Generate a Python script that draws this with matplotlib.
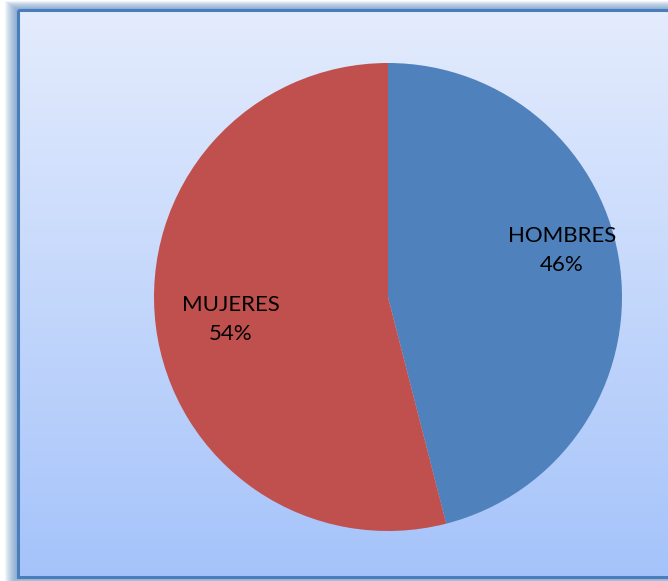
import numpy as np
import matplotlib.pyplot as plt
from matplotlib.patches import Rectangle
from matplotlib.colors import LinearSegmentedColormap

# data
labels = ["HOMBRES", "MUJERES"]
values = [46, 54]
colors = ["#4f81bd", "#c0504d"]
# label placement (angle in degrees, radius fraction) as Excel put them
label_pos = [(15, 0.77), (188, 0.68)]

W, H = 668, 581
fig = plt.figure(figsize=(W / 100, H / 100), dpi=100)
fig.patch.set_facecolor("white")

# background panel with glow + gradient
bg = fig.add_axes([0, 0, 1, 1])
x0, y0, x1, y1 = 18, 10, 680, 577
for i in range(13, 0, -1):
    bg.add_patch(Rectangle((x0 - i, y0 - i * 0.7), (x1 - x0) + 2 * i, (y1 - y0) + i * 1.4,
                           facecolor="#4a7ebb", edgecolor="none", alpha=0.07))
cmap = LinearSegmentedColormap.from_list("bgc", ["#e4ecfd", "#a5c3fa"])
grad = np.linspace(0, 1, 256).reshape(-1, 1)
bg.imshow(grad, cmap=cmap, extent=[x0, x1, y1, y0], aspect="auto", zorder=2)
bg.add_patch(Rectangle((x0, y0), x1 - x0, y1 - y0, facecolor="none",
                       edgecolor="#4a7ebb", linewidth=2.2, zorder=3))
bg.set_xlim(0, W)
bg.set_ylim(H, 0)
bg.axis("off")

# pie
cx, cy, r = 388, 297, 234
ax = fig.add_axes([(cx - r) / W, 1 - (cy + r) / H, 2 * r / W, 2 * r / H])
ax.pie(values, colors=colors, startangle=90, counterclock=False, radius=1,
       wedgeprops=dict(linewidth=0))
ax.set_xlim(-1, 1)
ax.set_ylim(-1, 1)
ax.set_aspect("equal")
ax.axis("off")

for lab, v, (ang, rr) in zip(labels, values, label_pos):
    a = np.deg2rad(ang)
    ax.text(rr * np.cos(a), rr * np.sin(a), f"{lab}\n{v}%", ha="center", va="center",
            fontsize=16, family="Lato", color="black", linespacing=1.55)

fig.savefig("out.png", dpi=100)
